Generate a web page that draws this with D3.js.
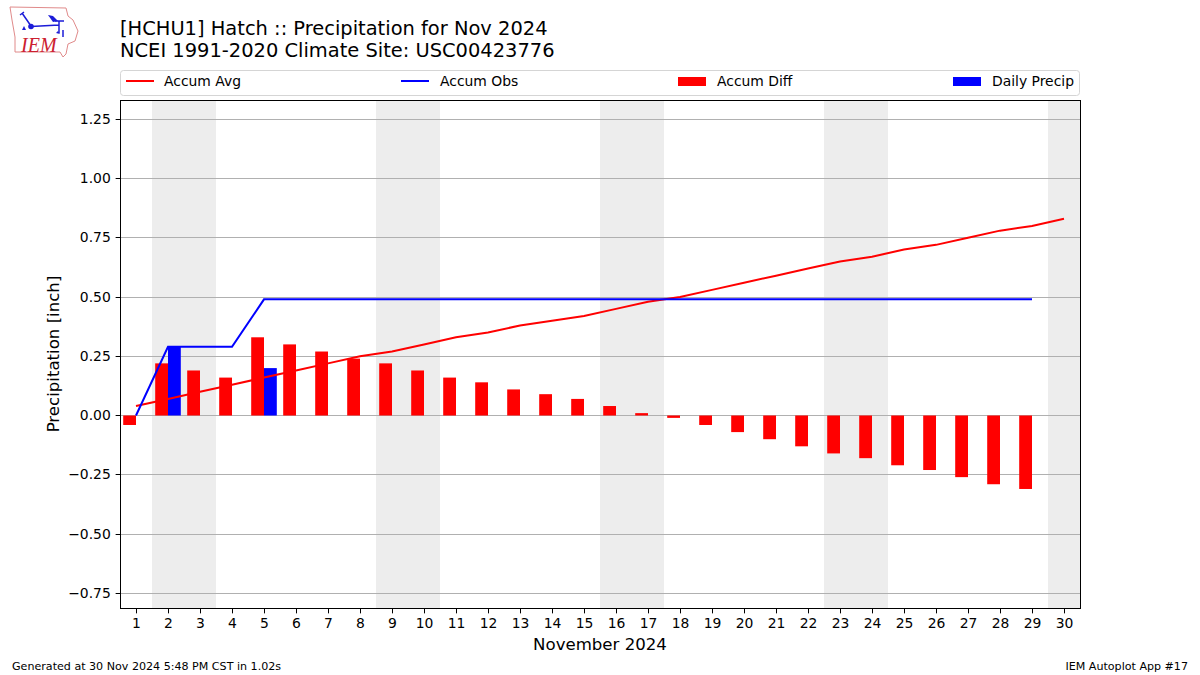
<!DOCTYPE html>
<html><head><meta charset="utf-8">
<script src="https://cdn.jsdelivr.net/npm/d3@7/dist/d3.min.js"></script>
<style>html,body{margin:0;padding:0;background:#fff}svg{display:block}text{font-family:"DejaVu Sans",sans-serif;fill:#000}</style>
</head><body><svg id="c" width="1200" height="675"></svg>
<script>
const days = d3.range(1, 31);
const accumAvg = [0.04,0.07,0.10,0.13,0.16,0.19,0.22,0.25,0.27,0.30,0.33,0.35,0.38,0.40,0.42,0.45,0.48,0.50,0.53,0.56,0.59,0.62,0.65,0.67,0.70,0.72,0.75,0.78,0.80,0.83];
const accumObs = [0,0.29,0.29,0.29,0.49,0.49,0.49,0.49,0.49,0.49,0.49,0.49,0.49,0.49,0.49,0.49,0.49,0.49,0.49,0.49,0.49,0.49,0.49,0.49,0.49,0.49,0.49,0.49,0.49];
const accumDiff = [-0.04,0.22,0.19,0.16,0.33,0.30,0.27,0.24,0.22,0.19,0.16,0.14,0.11,0.09,0.07,0.04,0.01,-0.01,-0.04,-0.07,-0.10,-0.13,-0.16,-0.18,-0.21,-0.23,-0.26,-0.29,-0.31];
const dailyPrecip = [0,0.29,0,0,0.20,0,0,0,0,0,0,0,0,0,0,0,0,0,0,0,0,0,0,0,0,0,0,0,0];
const weekends = [[1.5,3.5],[8.5,10.5],[15.5,17.5],[22.5,24.5],[29.5,30.5]];
const yTicks = [-0.75,-0.5,-0.25,0,0.25,0.5,0.75,1,1.25];
const legendItems = ["Accum Avg","Accum Obs","Accum Diff","Daily Precip"];
const titleLines = ["[HCHU1] Hatch :: Precipitation for Nov 2024","NCEI 1991-2020 Climate Site: USC00423776"];

const svg = d3.select("#c");
const L=120.5,R=1080.5,T=100.5,B=608.5;
const x = d3.scaleLinear().domain([0.5,30.5]).range([120,1080]);
const y = d3.scaleLinear().domain([-0.8143,1.3291]).range([B,T]);
const barW = x(1.4)-x(1);
const red="#ff0000", blue="#0000ff";
const snap = v => Math.floor(v)+.5;

svg.append("g").selectAll("rect").data(weekends).join("rect")
  .attr("x",d=>x(d[0])).attr("width",d=>x(d[1])-x(d[0]))
  .attr("y",T).attr("height",B-T).attr("fill","#ededed");

svg.append("g").selectAll("line").data(yTicks).join("line")
  .attr("x1",L).attr("x2",R).attr("y1",d=>snap(y(d))).attr("y2",d=>snap(y(d)))
  .attr("stroke","#b0b0b0").attr("stroke-width",1);

svg.append("g").selectAll("rect").data(accumDiff).join("rect")
  .attr("x",(d,i)=>x(days[i])-barW).attr("width",barW)
  .attr("y",d=>y(Math.max(d,0))).attr("height",d=>Math.abs(y(d)-y(0)))
  .attr("fill",red);
svg.append("g").selectAll("rect").data(dailyPrecip).join("rect")
  .attr("x",(d,i)=>x(days[i])).attr("width",barW)
  .attr("y",d=>y(d)).attr("height",d=>y(0)-y(d))
  .attr("fill",blue);

const line = d3.line().x((d,i)=>x(days[i])).y(d=>y(d));
svg.append("path").attr("d",line(accumAvg)).attr("fill","none").attr("stroke",red).attr("stroke-width",2);
svg.append("path").attr("d",line(accumObs)).attr("fill","none").attr("stroke",blue).attr("stroke-width",2);

const fmt = d => (d<0?"\u2212":"")+Math.abs(d).toFixed(2);
const gx = svg.append("g").attr("transform",`translate(0,${B})`)
  .call(d3.axisBottom(x).tickValues(days).tickFormat(d3.format("d")).tickSize(4.86).tickPadding(4.5).offset(0));
const gy = svg.append("g").attr("transform",`translate(${L},0)`)
  .call(d3.axisLeft(y).tickValues(yTicks).tickFormat(fmt).tickSize(4.86).tickPadding(4.86).offset(0));
for (const g of [gx,gy]) { g.select(".domain").remove(); g.attr("font-family",null).attr("font-size",null);
  g.selectAll("text").style("font-size","13.9px").attr("fill","#000");
  g.selectAll("line").attr("stroke","#000").attr("stroke-width",1); }
gy.selectAll(".tick").attr("transform",d=>`translate(0,${snap(y(d))})`);
gx.selectAll(".tick").attr("transform",d=>`translate(${snap(x(d))},0)`);
svg.append("rect").attr("x",L).attr("y",T).attr("width",R-L).attr("height",B-T)
  .attr("fill","none").attr("stroke","#000").attr("stroke-width",1);

svg.append("text").attr("x",600).attr("y",650).attr("text-anchor","middle").style("font-size","16.6px").text("November 2024");
svg.append("text").attr("transform","translate(58.5,354) rotate(-90)").attr("text-anchor","middle").style("font-size","16.6px").text("Precipitation [inch]");

svg.append("g").selectAll("text").data(titleLines).join("text")
  .attr("x",120).attr("y",(d,i)=>35+i*22).style("font-size","19.45px").text(d=>d);

svg.append("text").attr("x",12).attr("y",670).style("font-size","11.1px").text("Generated at 30 Nov 2024 5:48 PM CST in 1.02s");
svg.append("text").attr("x",1188).attr("y",670).attr("text-anchor","end").style("font-size","11.1px").text("IEM Autoplot App #17");

// legend
svg.append("rect").attr("x",120.5).attr("y",70.5).attr("width",959).attr("height",25).attr("rx",3)
  .attr("fill","#fff").attr("stroke","#d5d5d5");
const lg = [{x:126,c:red,k:"l",t:38},{x:401,c:blue,k:"l",t:39},{x:678,c:red,k:"b",t:39},{x:953,c:blue,k:"b",t:39}];
lg.forEach((o,i)=>{
  if(o.k==="l") svg.append("line").attr("x1",o.x).attr("x2",o.x+28).attr("y1",81).attr("y2",81).attr("stroke",o.c).attr("stroke-width",2);
  else svg.append("rect").attr("x",o.x).attr("y",77).attr("width",28).attr("height",9).attr("fill",o.c);
  svg.append("text").attr("x",o.x+o.t).attr("y",86).style("font-size","13.9px").text(legendItems[i]);
});

// IEM logo
const logo = svg.append("g");
logo.append("path").attr("d","M10 7 L66 8 L68 16 L73 20 L78 31 L75 41 L68 44 L66 54 L63 57 L60 52 L15 52 L15 37 L12 20 Z")
  .attr("fill","#fff").attr("stroke","#e08a8a").attr("stroke-width",1);
logo.append("path").attr("d","M31 26.500 L59 25 M22 13 L31 26 M20 15 L24 12 M55 21 L64 21 M59 21 L59 33 M63 30 L63 37")
  .attr("fill","none").attr("stroke","#1c1cd8").attr("stroke-width",1.5);
logo.append("path").attr("d","M48 15 L53 16 L58 21 L53 22 Z").attr("fill","#1c1cd8");
logo.append("circle").attr("cx",31).attr("cy",26.5).attr("r",2.8).attr("fill","#1c1cd8");
logo.append("path").attr("d","M22 30 L24 26 L26 30 Z M56 33 L58 31 L60 34 Z").attr("fill","#1c1cd8");
logo.append("text").attr("x",21).attr("y",52).style("font-family","'Liberation Serif',serif").style("font-style","italic").style("font-size","20px").style("fill","#cc2030").text("IEM");
</script></body></html>
